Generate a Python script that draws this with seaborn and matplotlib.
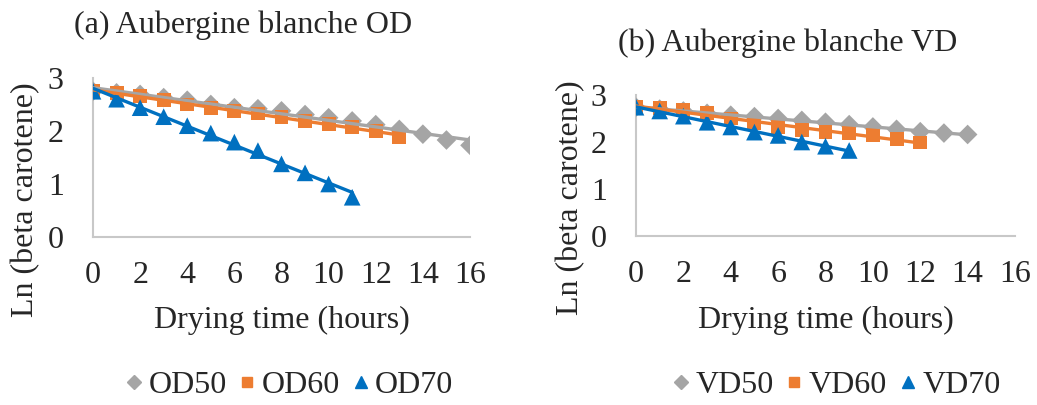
import numpy as np
import pandas as pd
import matplotlib
matplotlib.use("Agg")
import matplotlib.pyplot as plt
from matplotlib.lines import Line2D
import seaborn as sns

# Ln(beta carotene) versus drying time, oven drying (OD) at 50/60/70 °C
od_hours = {
    "OD50": list(range(0, 17)),
    "OD60": list(range(0, 14)),
    "OD70": list(range(0, 12)),
}
od50 = [2.75, 2.72, 2.69, 2.63, 2.58, 2.50, 2.44, 2.42, 2.38, 2.31, 2.25, 2.19, 2.12, 2.03, 1.94, 1.83, 1.73]
od60 = [2.75, 2.72, 2.66, 2.58, 2.50, 2.44, 2.38, 2.33, 2.27, 2.19, 2.13, 2.07, 2.00, 1.88]
od70 = [2.75, 2.60, 2.44, 2.27, 2.10, 1.96, 1.79, 1.63, 1.38, 1.21, 1.00, 0.75]

# Vacuum drying (VD) at 50/60/70 °C
vd_hours = {
    "VD50": list(range(0, 15)),
    "VD60": list(range(0, 13)),
    "VD70": list(range(0, 10)),
}
vd50 = [2.74, 2.70, 2.66, 2.61, 2.57, 2.54, 2.50, 2.46, 2.42, 2.37, 2.32, 2.27, 2.22, 2.19, 2.16]
vd60 = [2.74, 2.72, 2.69, 2.61, 2.50, 2.40, 2.31, 2.25, 2.22, 2.19, 2.15, 2.06, 1.99]
vd70 = [2.74, 2.66, 2.55, 2.42, 2.32, 2.21, 2.14, 2.00, 1.91, 1.82]

titles = ["(a) Aubergine blanche OD", "(b) Aubergine blanche VD"]
x_label = "Drying time (hours)"
y_label = "Ln (beta carotene)"
x_ticks = list(range(0, 17, 2))
y_ticks = [0, 1, 2, 3]

colors = ["#A5A5A5", "#ED7D31", "#0070C0"]
markers = ["D", "s", "^"]
marker_sizes = [10, 10, 12]
legend_sizes = [7, 7.5, 8]


def long_frame(hours, values):
    rows = []
    for (name, h), v in zip(hours.items(), values):
        rows.append(pd.DataFrame({"t": h, "ln": v, "series": name}))
    return pd.concat(rows, ignore_index=True)


od_df = long_frame(od_hours, [od50, od60, od70])
vd_df = long_frame(vd_hours, [vd50, vd60, vd70])

sns.set_theme(style="white")
plt.rcParams["font.family"] = ["Liberation Serif", "DejaVu Serif"]
FS = 23

W, H = 1037, 405
fig = plt.figure(figsize=(W / 100, H / 100), dpi=100)


def px_axes(x0, x1, y_top, y_bot):
    return fig.add_axes([x0 / W, 1 - y_bot / H, (x1 - x0) / W, (y_bot - y_top) / H])


ax_a = px_axes(93, 470, 78, 237)
ax_b = px_axes(636, 1015, 95, 236)

panels = [
    (ax_a, od_df, list(od_hours), titles[0], (243, 25), 26, 200, 289),
    (ax_b, vd_df, list(vd_hours), titles[1], (788, 43), 571, 198, 836),
]

for ax, df, names, title, tpos, ylx, yly, legx in panels:
    # data markers
    for name, c, m, ms in zip(names, colors, markers, marker_sizes):
        sub = df[df["series"] == name]
        sns.scatterplot(data=sub, x="t", y="ln", ax=ax, color=c, marker=m,
                        s=ms ** 2, edgecolor="none", linewidth=0, zorder=3,
                        legend=False)
    # linear trend lines drawn over the markers
    for name, c in zip(names, colors):
        sub = df[df["series"] == name]
        sns.regplot(data=sub, x="t", y="ln", ax=ax, scatter=False, ci=None,
                    truncate=True, color=c, line_kws={"lw": 2.4, "zorder": 4})
    ax.set_xlim(0, 16)
    ax.set_ylim(0, 3)
    ax.set_xticks(x_ticks)
    ax.set_yticks(y_ticks)
    ax.tick_params(axis="x", length=0, labelsize=FS, pad=17)
    ax.tick_params(axis="y", length=0, labelsize=FS, pad=21)
    ax.set_xlabel(x_label, fontsize=FS)
    ax.set_ylabel(y_label, fontsize=FS)
    ax.xaxis.set_label_coords(ax.get_position().x0 + ax.get_position().width / 2,
                              1 - 320 / H, transform=fig.transFigure)
    ax.xaxis.label.set_va("center")
    ax.yaxis.set_label_coords(ylx / W, 1 - yly / H, transform=fig.transFigure)
    ax.yaxis.label.set_va("center")
    for side in ["top", "right"]:
        ax.spines[side].set_visible(False)
    for side in ["left", "bottom"]:
        ax.spines[side].set_color("#C8C8C8")
        ax.spines[side].set_linewidth(1.5)
    ax.set_facecolor("white")

    fig.text(tpos[0] / W, 1 - tpos[1] / H, title, ha="center", va="center",
             fontsize=FS)

    handles = [Line2D([], [], ls="none", marker=m, color=c, markersize=ls)
               for c, m, ls in zip(colors, markers, legend_sizes)]
    fig.legend(handles, names, loc="center",
               bbox_to_anchor=(legx / W, 1 - 385 / H),
               ncol=3, frameon=False, fontsize=FS, handlelength=0.6,
               handletextpad=0.15, columnspacing=0.35, borderpad=0)

fig.savefig("out.png", dpi=100, facecolor="white")
